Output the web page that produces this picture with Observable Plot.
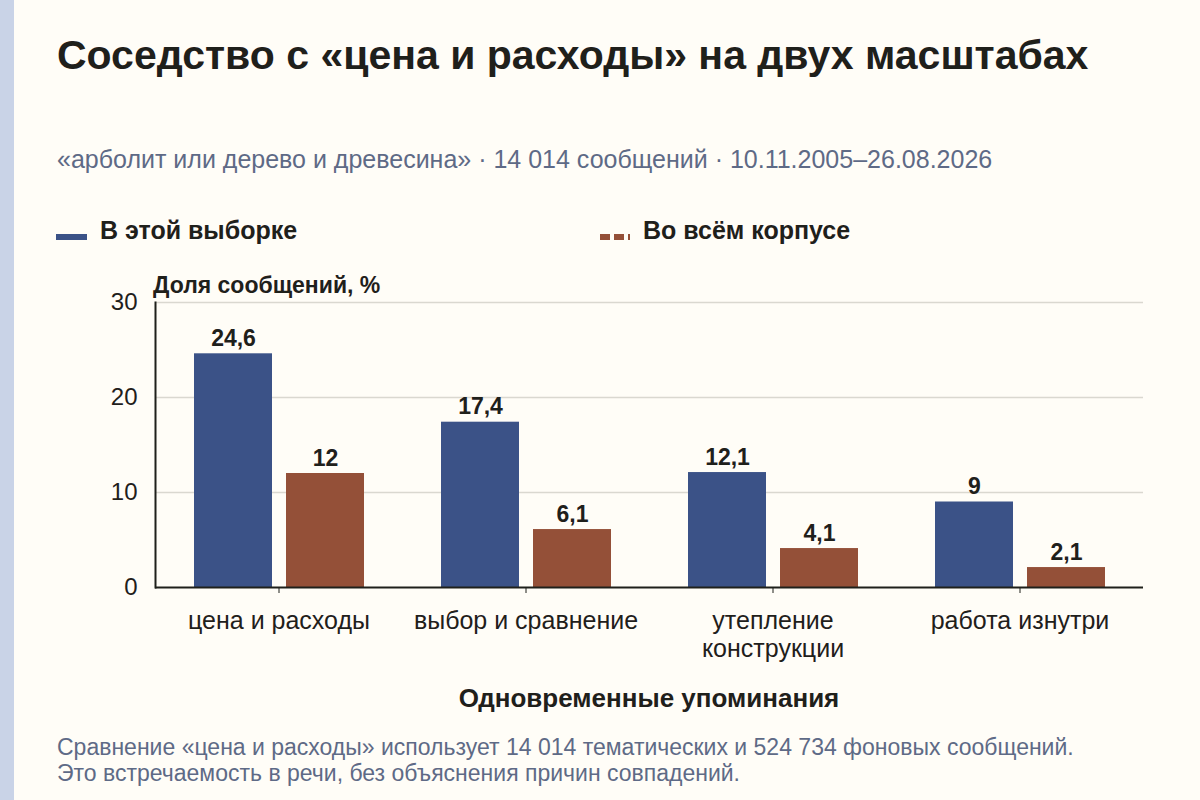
<!DOCTYPE html>
<html lang="ru">
<head>
<meta charset="utf-8">
<script src="https://cdn.jsdelivr.net/npm/d3@7"></script>
<script src="https://cdn.jsdelivr.net/npm/@observablehq/plot@0.6"></script>
<style>
  html, body { margin: 0; padding: 0; }
  body { width: 1200px; height: 800px; background: #fffdf7; position: relative; overflow: hidden;
         font-family: "Liberation Sans", Arial, Helvetica, sans-serif; color: #1f201b; }
  #stripe { position: absolute; left: 0; top: 0; width: 14px; height: 800px; background: #c9d3e7; }
  .abs { position: absolute; white-space: nowrap; }
  #title { left: 57px; top: 35px; font-size: 41px; line-height: 41px; font-weight: bold; color: #1f201b; }
  #subtitle { left: 57px; top: 147px; font-size: 25px; line-height: 25px; color: #5e6a86; }
  .legtext { top: 218px; font-size: 25px; line-height: 25px; font-weight: bold; color: #1f201b; }
  .sw { position: absolute; top: 234px; height: 5.5px; }
  #ylabel { left: 153px; top: 274px; font-size: 23px; line-height: 23px; font-weight: bold; color: #1f201b; }
  #xlabel { left: 155px; width: 988px; text-align: center; top: 685px; font-size: 26px; line-height: 26px; font-weight: bold; color: #1f201b; }
  #caption { left: 57px; top: 734px; font-size: 23px; line-height: 26px; color: #5e6a86; }
  #chart { position: absolute; left: 0; top: 270px; }
</style>
</head>
<body>
<div id="stripe"></div>
<div id="title" class="abs">Соседство с «цена и расходы» на двух масштабах</div>
<div id="subtitle" class="abs">«арболит или дерево и древесина» · 14 014 сообщений · 10.11.2005–26.08.2026</div>
<div class="sw" id="sw1" style="left:56px; width:31px"></div>
<div class="abs legtext" id="legtext1" style="left:100px"></div>
<div class="sw" id="sw2" style="left:600px; width:30px"></div>
<div class="abs legtext" id="legtext2" style="left:643px"></div>
<div id="ylabel" class="abs">Доля сообщений, %</div>
<div id="chart"></div>
<div id="xlabel" class="abs">Одновременные упоминания</div>
<div id="caption" class="abs">Сравнение «цена и расходы» использует 14 014 тематических и 524 734 фоновых сообщений.<br>Это встречаемость в речи, без объяснения причин совпадений.</div>
<script>
// ---- data ----
const categories = ["цена и расходы", "выбор и сравнение", "утепление конструкции", "работа изнутри"];
const categoryLabels = ["цена и расходы", "выбор и сравнение", "утепление\nконструкции", "работа изнутри"];
const seriesNames = ["В этой выборке", "Во всём корпусе"];
const sampleValues = [24.6, 17.4, 12.1, 9];
const corpusValues = [12, 6.1, 4.1, 2.1];
const yTicks = [0, 10, 20, 30];
const seriesColors = ["#3b5287", "#945038"];

// legend
document.getElementById("legtext1").textContent = seriesNames[0];
document.getElementById("legtext2").textContent = seriesNames[1];
document.getElementById("sw1").style.background = seriesColors[0];
document.getElementById("sw2").style.background =
  `repeating-linear-gradient(90deg, ${seriesColors[1]} 0 10.5px, transparent 10.5px 14px)`;

const data = categories.flatMap((c, i) => [
  {category: c, series: seriesNames[0], value: sampleValues[i]},
  {category: c, series: seriesNames[1], value: corpusValues[i]}
]);
const labelOf = new Map(categories.map((c, i) => [c, categoryLabels[i]]));
const fmt = v => String(v).replace(".", ",");

const chart = Plot.plot({
  width: 1200,
  height: 420,
  marginLeft: 155,
  marginRight: 57,
  marginTop: 32,
  marginBottom: 103,
  style: {background: "transparent", fontFamily: "'Liberation Sans', Arial, sans-serif", color: "#1f201b", overflow: "visible"},
  fx: {domain: categories, padding: 0},
  x: {domain: seriesNames, paddingInner: 0.157, paddingOuter: 0.41},
  y: {domain: [0, 30]},
  color: {domain: seriesNames, range: seriesColors},
  marks: [
    Plot.gridY(yTicks.filter(t => t > 0), {stroke: "#dad8d0", strokeOpacity: 1, strokeWidth: 1.5}),
    Plot.barY(data, {fx: "category", x: "series", y: "value", fill: "series"}),
    Plot.text(data, {fx: "category", x: "series", y: "value", text: d => fmt(d.value),
      lineAnchor: "bottom", dy: -8, fontSize: 23, fontWeight: "bold", fill: "#1f201b"}),
    Plot.ruleY([0], {stroke: "#1f201b", strokeWidth: 2}),
    Plot.frame({anchor: "left", facetAnchor: "left", stroke: "#1f201b", strokeWidth: 2}),
    Plot.axisY({ticks: yTicks, tickSize: 0, tickPadding: 18, fontSize: 24, label: null, fill: "#1f201b"}),
    Plot.axisFx({anchor: "bottom", tickSize: 6, tickPadding: 16, fontSize: 25, lineHeight: 1.12,
      tickFormat: c => labelOf.get(c), label: null, stroke: "#1f201b", fill: "#1f201b"}),
    Plot.axisX({ticks: [], label: null})
  ]
});
document.getElementById("chart").appendChild(chart);
</script>
</body>
</html>
